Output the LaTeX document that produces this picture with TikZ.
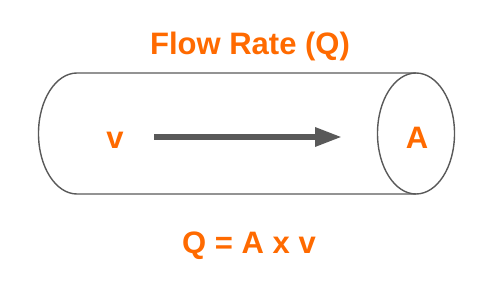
\documentclass[tikz,border=0pt]{standalone}
\usepackage{fontspec}
\setmainfont{Liberation Sans}
\usetikzlibrary{arrows.meta, positioning}
\definecolor{flowor}{HTML}{FF6A00}
\definecolor{pipegray}{HTML}{595959}

\begin{document}
\begin{tikzpicture}[
  x=1pt, y=1pt,
  label/.style = {text=flowor, font=\bfseries\fontsize{31}{37}\selectfont,
                  inner sep=0pt, anchor=base},
  pipe/.style  = {draw=pipegray, line width=1.4pt},
  flow/.style  = {-{Triangle[length=27pt, width=18pt]}, line width=6pt,
                  draw=pipegray}
]
\useasboundingbox (0,0) rectangle (500,286);

% ── Pipe (cylinder) ──────────────────────────────────────────────────────────
\draw[pipe] (416,213) -- (77,213)
  arc[start angle=90, end angle=270, x radius=38.5, y radius=60.5]
  -- (416,92);
\draw[pipe] (416,152.5) ellipse[x radius=38.5, y radius=60.5];

% ── Labels ───────────────────────────────────────────────────────────────────
\node[label] (title) at (250,231) {Flow Rate (Q)};
\node[label] (vel)   at (115,137.7) {v};
\node[label] (area)  at (417,137.7) {A};
\node[label] (eq)    at (249,32.7) {Q = A x v};

% ── Flow arrow ───────────────────────────────────────────────────────────────
\coordinate (fstart) at (154,149);
\coordinate (fend)   at (342,149);
\draw[flow] (fstart) -- (fend);

\end{tikzpicture}
\end{document}
